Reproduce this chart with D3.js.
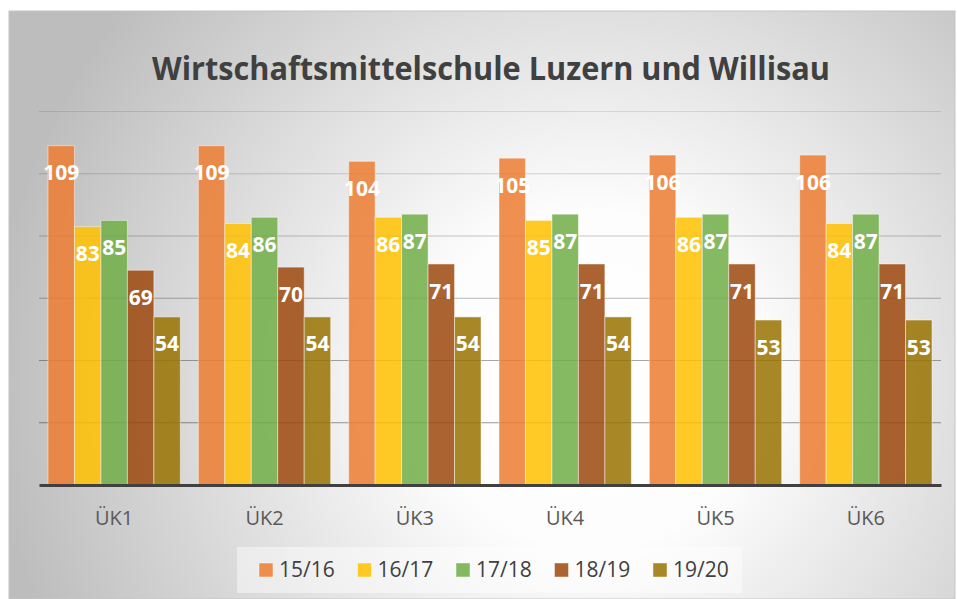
<!DOCTYPE html>
<html>
<head>
<meta charset="utf-8">
<script src="https://cdn.jsdelivr.net/npm/d3@7"></script>
<style>
  body { margin: 0; background: #fff; }
  svg { display: block; }
  .x-axis text { font-family: "Open Sans", sans-serif; font-size: 20px; fill: #595959; }
</style>
</head>
<body>
<div id="chart"></div>
<script>
// Data
const title = "Wirtschaftsmittelschule Luzern und Willisau";
const categories = ["ÜK1", "ÜK2", "ÜK3", "ÜK4", "ÜK5", "ÜK6"];
const seriesNames = ["15/16", "16/17", "17/18", "18/19", "19/20"];
const s1516 = [109, 109, 104, 105, 106, 106];
const s1617 = [83, 84, 86, 85, 86, 84];
const s1718 = [85, 86, 87, 87, 87, 87];
const s1819 = [69, 70, 71, 71, 71, 71];
const s1920 = [54, 54, 54, 54, 53, 53];
const yTicks = [0, 20, 40, 60, 80, 100, 120];

const seriesValues = [s1516, s1617, s1718, s1819, s1920];
const colors = ["#ED7D31", "#FFC000", "#70AD47", "#9E480E", "#997300"];

// table for d3
const data = categories.map((c, i) => ({
  cat: c,
  values: seriesNames.map((s, j) => ({ key: s, value: seriesValues[j][i] }))
}));

const W = 957, H = 599;
const frame = { x: 9, y: 11, w: 946, h: 588 };
const plot = { left: 39, right: 941, top: 111.5, bottom: 485 };

const svg = d3.select("#chart").append("svg")
  .attr("width", W).attr("height", H);

// background radial gradient
const defs = svg.append("defs");
const grad = defs.append("radialGradient")
  .attr("id", "bg")
  .attr("gradientUnits", "userSpaceOnUse")
  .attr("cx", 590).attr("cy", 380).attr("r", 600);
grad.append("stop").attr("offset", 0).attr("stop-color", "#ffffff");
grad.append("stop").attr("offset", 0.28).attr("stop-color", "#fdfdfd");
grad.append("stop").attr("offset", 1).attr("stop-color", "#bdbdbd");

svg.append("rect")
  .attr("x", frame.x).attr("y", frame.y)
  .attr("width", frame.w).attr("height", frame.h)
  .attr("fill", "url(#bg)")
  .attr("stroke", "#c4c4c4").attr("stroke-width", 1);

// scales
const x0 = d3.scaleBand().domain(categories).range([plot.left, plot.right]).padding(0);
const x1 = d3.scaleBand().domain(seriesNames).range([0, x0.bandwidth()])
  .paddingInner(0).paddingOuter(0.34);
const y = d3.scaleLinear().domain([0, 120]).range([plot.bottom, plot.top]);
const color = d3.scaleOrdinal().domain(seriesNames).range(colors);
const gridOpacity = d3.scaleLinear().domain([120, 20]).range([0.1, 0.4]);

// gridlines
svg.append("g").attr("class", "grid")
  .selectAll("line")
  .data(yTicks.filter(t => t > 0))
  .join("line")
  .attr("x1", plot.left).attr("x2", plot.right)
  .attr("y1", d => y(d)).attr("y2", d => y(d))
  .attr("stroke", "#000")
  .attr("stroke-opacity", d => gridOpacity(d))
  .attr("stroke-width", 1);

// bars
const groups = svg.append("g").selectAll("g")
  .data(data)
  .join("g")
  .attr("transform", d => `translate(${x0(d.cat)},0)`);

groups.selectAll("rect")
  .data(d => d.values)
  .join("rect")
  .attr("x", d => x1(d.key))
  .attr("y", d => y(d.value))
  .attr("width", x1.bandwidth())
  .attr("height", d => y(0) - y(d.value))
  .attr("fill", d => color(d.key))
  .attr("fill-opacity", 0.85)
  .attr("stroke", "#ffffff")
  .attr("stroke-opacity", 0.45)
  .attr("stroke-width", 1);

groups.selectAll("text")
  .data(d => d.values)
  .join("text")
  .attr("x", d => x1(d.key) + x1.bandwidth() / 2)
  .attr("y", d => y(d.value) + 34.5)
  .attr("text-anchor", "middle")
  .attr("font-family", "Open Sans, sans-serif")
  .attr("font-weight", "bold")
  .attr("font-size", 21)
  .attr("fill", "#ffffff")
  .text(d => d.value);

// x axis
const xAxis = svg.append("g")
  .attr("class", "x-axis")
  .attr("transform", `translate(0,${plot.bottom})`)
  .call(d3.axisBottom(x0).tickSize(0).tickPadding(26));
xAxis.select(".domain").attr("stroke", "#404040").attr("stroke-width", 3);

// title
svg.append("text")
  .attr("x", 491)
  .attr("y", 80)
  .attr("text-anchor", "middle")
  .attr("font-family", "Open Sans, sans-serif")
  .attr("font-weight", "bold")
  .attr("font-size", 33)
  .attr("fill", "#404040")
  .attr("textLength", 678)
  .attr("lengthAdjust", "spacingAndGlyphs")
  .text(title);

// legend
const legend = svg.append("g").attr("class", "legend");
legend.append("rect")
  .attr("x", 237).attr("y", 547)
  .attr("width", 505).attr("height", 46)
  .attr("fill", "#ffffff").attr("fill-opacity", 0.45);

const items = legend.selectAll(".item")
  .data(seriesNames)
  .join("g")
  .attr("class", "item")
  .attr("transform", (d, i) => `translate(${259 + i * 98.5},563)`);

items.append("rect")
  .attr("width", 14).attr("height", 14)
  .attr("fill", d => color(d))
  .attr("fill-opacity", 0.85)
  .attr("stroke", "#ffffff").attr("stroke-opacity", 0.45);

items.append("text")
  .attr("x", 20).attr("y", 14)
  .attr("font-family", "Open Sans, sans-serif")
  .attr("font-size", 21)
  .attr("fill", "#404040")
  .text(d => d);
</script>
</body>
</html>
